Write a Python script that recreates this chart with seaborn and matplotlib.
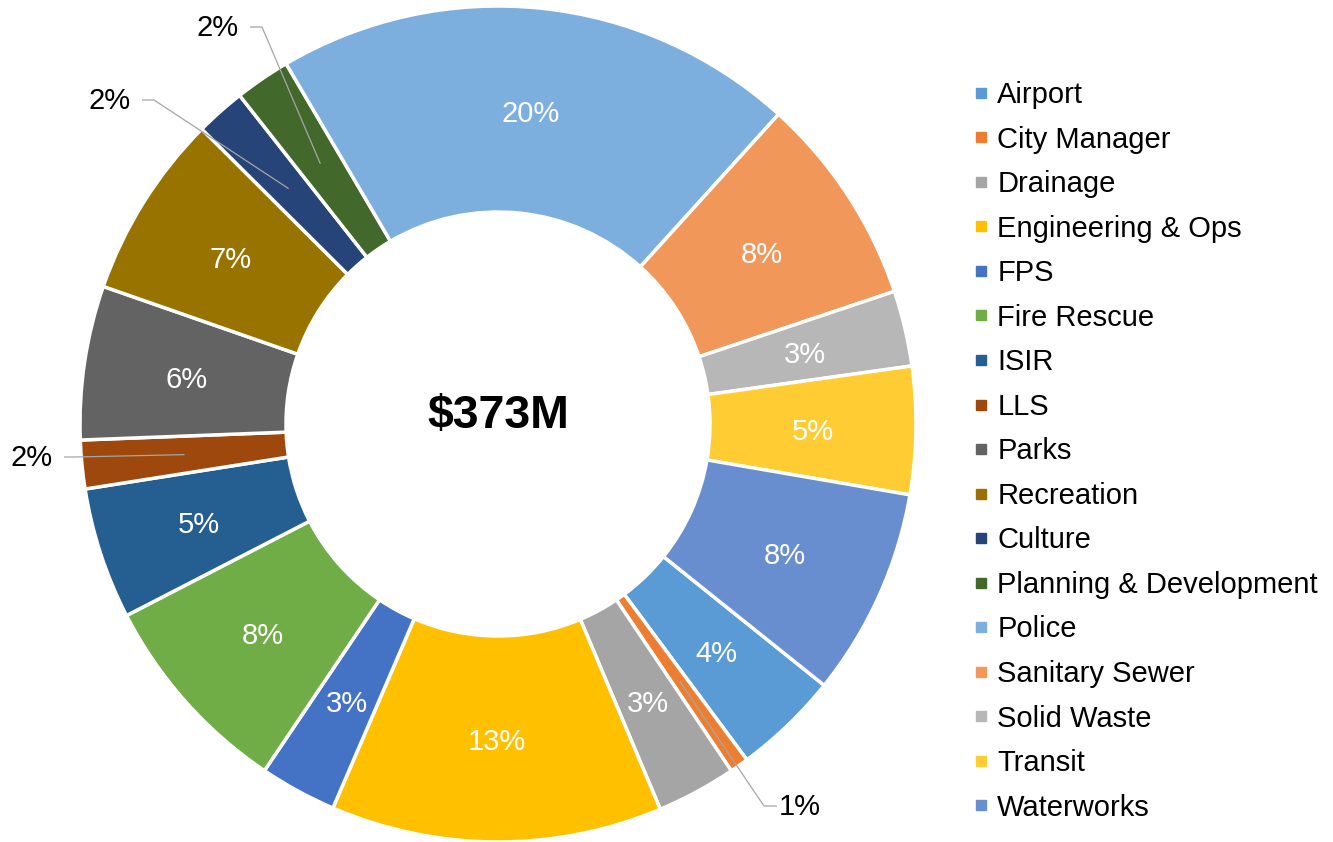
import matplotlib
matplotlib.use('Agg')
import matplotlib.pyplot as plt
import seaborn as sns
import numpy as np
from matplotlib.lines import Line2D

# ---------------- data ----------------
categories = ["Airport", "City Manager", "Drainage", "Engineering & Ops", "FPS",
              "Fire Rescue", "ISIR", "LLS", "Parks", "Recreation", "Culture",
              "Planning & Development", "Police", "Sanitary Sewer", "Solid Waste",
              "Transit", "Waterworks"]
values_musd = [15.3, 2.7, 11.5, 47.8, 11.1, 29.8, 19.0, 7.0, 22.2, 26.6, 7.2,
               8.0, 75.3, 30.4, 10.9, 18.4, 30.0]
center_label = "$373M"

colors = ["#5B9BD5", "#ED7D31", "#A5A5A5", "#FFC000", "#4472C4", "#70AD47",
          "#255E91", "#9E480E", "#636363", "#997300", "#264478", "#43682B",
          "#7CAFDD", "#F1975A", "#B7B7B7", "#FFCD33", "#698ED0"]

# ---------------- layout / style ----------------
sns.set_theme(style="white")
plt.rcParams["font.family"] = ["Liberation Sans", "DejaVu Sans"]
plt.rcParams["text.color"] = "black"

W, H = 1333, 842
FS = 21
fig = plt.figure(figsize=(W / 100, H / 100), dpi=100)
ax = fig.add_axes([0, 0, 1, 1])

cx, cy = 498, H - 424
R = 418
ring = 206
start_angle = -38.7

wedges, _ = ax.pie(values_musd, colors=colors, startangle=start_angle,
                   counterclock=False, center=(cx, cy), radius=R,
                   wedgeprops=dict(width=ring, edgecolor="white", linewidth=2.5))
ax.set_xlim(0, W)
ax.set_ylim(0, H)
ax.set_aspect("equal")
ax.axis("off")

# labels placed outside (text centre in pixel coords from top-left, side of leader)
outside = {
    "City Manager": ((800, 806), "left"),
    "LLS": ((32, 457), "right"),
    "Culture": ((110, 100), "right"),
    "Planning & Development": ((218, 27), "right"),
}

total = sum(values_musd)
r_mid = R - ring / 2
for w, cat, v in zip(wedges, categories, values_musd):
    th = np.deg2rad((w.theta1 + w.theta2) / 2)
    px, py = cx + r_mid * np.cos(th), cy + r_mid * np.sin(th)
    txt = f"{v / total * 100:.0f}%"
    if cat in outside:
        (tx, ty), side = outside[cat]
        ty = H - ty
        ax.text(tx, ty - 1, txt, ha="center", va="center", fontsize=FS, color="black")
        if side == "right":
            x0 = tx + 32
            x1 = x0 + 12
        else:
            x0 = tx - 23
            x1 = x0 - 13
        ax.plot([x0, x1, px], [ty, ty, py], color="#A6A6A6", lw=0.9,
                solid_capstyle="butt", zorder=5)
    else:
        ax.text(px, py - 3, txt, ha="center", va="center", fontsize=FS, color="white")

ax.text(cx, cy + 8, center_label, ha="center", va="center", fontsize=33.5,
        fontweight="bold", color="black")

handles = [Line2D([], [], marker="s", linestyle="none", markersize=6.5,
                  markerfacecolor=c, markeredgecolor=c) for c in colors]
ax.legend(handles, categories, loc="upper left",
          bbox_to_anchor=(974 / W, 1 - 81 / H), bbox_transform=fig.transFigure,
          frameon=False, fontsize=FS, handlelength=0.5, handletextpad=0.3,
          borderpad=0, borderaxespad=0, labelspacing=0.567, labelcolor="black")

fig.savefig("out.png", dpi=100, facecolor="white")
